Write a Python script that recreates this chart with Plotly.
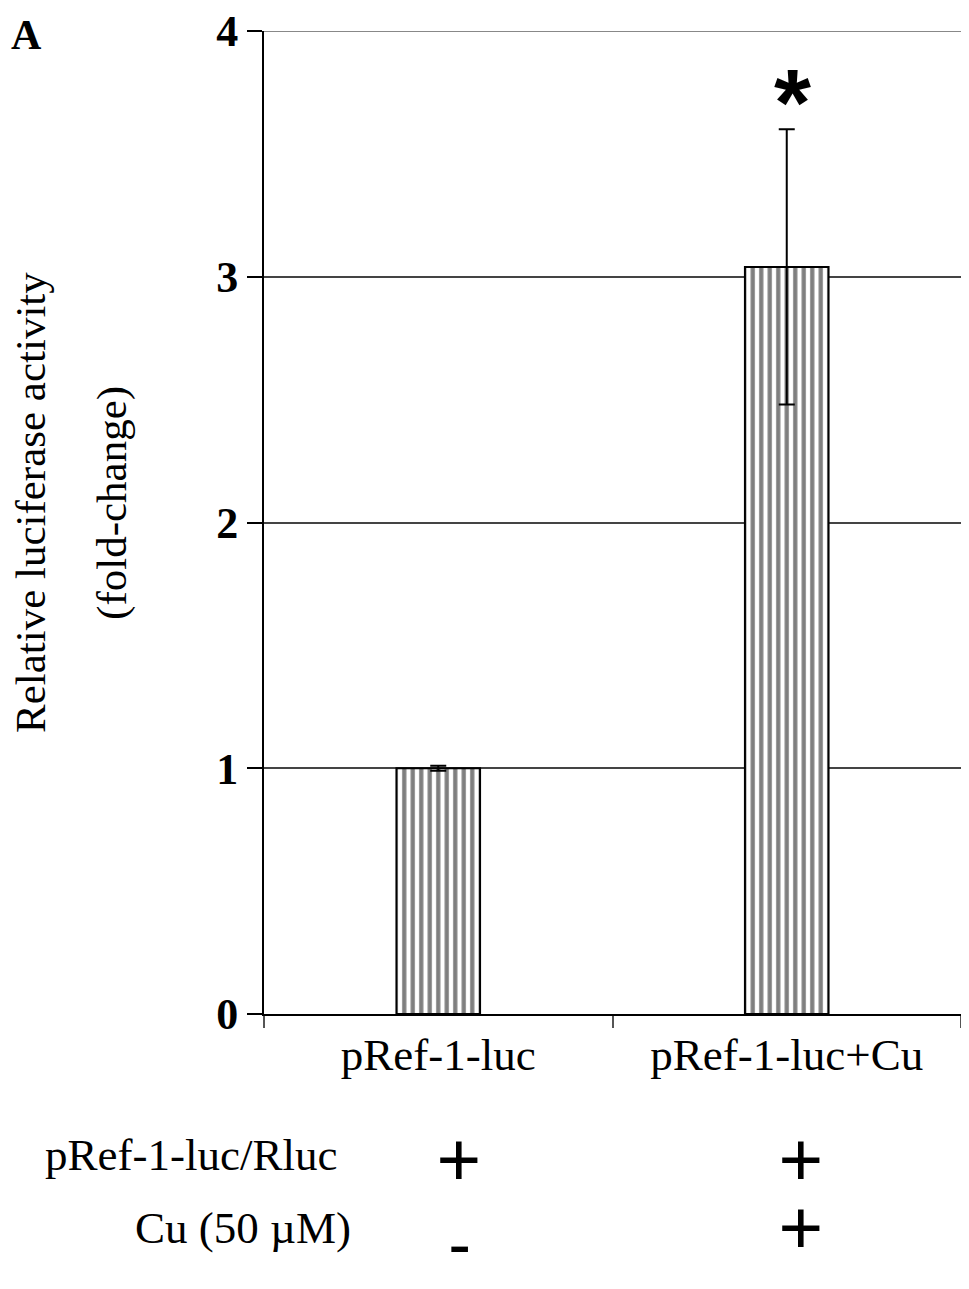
import plotly.graph_objects as go

# data
categories = ["pRef-1-luc", "pRef-1-luc+Cu"]
fold_change = [1.0, 3.04]
sem = [0.01, 0.56]
y_ticks = [0, 1, 2, 3, 4]
rluc_row = ["+", "+"]
cu_row = ["-", "+"]

SERIF = "Liberation Serif, Times New Roman, serif"
sign_shift = [21, 14]

fig = go.Figure()

fig.add_trace(go.Bar(
    x=categories,
    y=fold_change,
    width=0.24,
    marker=dict(
        color="white",
        line=dict(color="black", width=2),
        pattern=dict(shape="|", fgcolor="black", bgcolor="white", size=8.5, solidity=0.5),
    ),
    error_y=dict(type="data", array=sem, symmetric=True, color="black", thickness=2, width=8),
    showlegend=False,
))

fig.update_layout(
    width=969,
    height=1289,
    margin=dict(l=256, r=16, t=23, b=283),
    plot_bgcolor="white",
    paper_bgcolor="white",
    xaxis=dict(
        range=[-0.5, 1.5],
        showline=True,
        linecolor="black",
        linewidth=2,
        ticks="outside",
        tickson="boundaries",
        ticklen=12,
        tickcolor="#555",
        tickwidth=2,
        tickfont=dict(family=SERIF, size=45, color="black"),
        showgrid=False,
    ),
    yaxis=dict(
        range=[0, 4],
        tickvals=y_ticks,
        showline=True,
        linecolor="black",
        linewidth=2,
        ticks="outside",
        ticklen=15,
        tickcolor="black",
        tickwidth=2,
        ticklabeloverflow="allow",
        automargin=False,
        tickfont=dict(family=SERIF, size=44, color="black", weight="bold"),
        showgrid=True,
        gridcolor="#444",
        gridwidth=2,
        zeroline=False,
    ),
)

# top gridline at 4
fig.add_shape(type="line", xref="paper", yref="y", x0=0, x1=1, y0=4, y1=4,
              line=dict(color="#888", width=2), layer="below")

# y-axis title, two lines
fig.add_annotation(text="Relative luciferase activity", xref="paper", yref="paper",
                   x=-0.334, y=0.52, xanchor="center", yanchor="middle", textangle=-90,
                   showarrow=False, font=dict(family=SERIF, size=43, color="black"))
fig.add_annotation(text="(fold-change)", xref="paper", yref="paper",
                   x=-0.218, y=0.52, xanchor="center", yanchor="middle", textangle=-90,
                   showarrow=False, font=dict(family=SERIF, size=43, color="black"))

# significance marker
fig.add_annotation(text="*", x=categories[1], y=3.71, xref="x", yref="y",
                   showarrow=False, yanchor="middle", xshift=6,
                   font=dict(family="Liberation Sans, Arial, sans-serif", size=95, color="black", weight="bold"))

# panel letter
fig.add_annotation(text="A", xref="paper", yref="paper", x=-0.366, y=1.021,
                   xanchor="left", yanchor="top", showarrow=False,
                   font=dict(family=SERIF, size=42, color="black", weight="bold"))

# treatment table below the chart
fig.add_annotation(text="pRef-1-luc/Rluc", xref="paper", yref="paper", x=-0.317, y=-0.143,
                   xanchor="left", yanchor="middle", showarrow=False,
                   font=dict(family=SERIF, size=45, color="black"))
fig.add_annotation(text="Cu (50 µM)", xref="paper", yref="paper", x=-0.188, y=-0.218,
                   xanchor="left", yanchor="middle", showarrow=False,
                   font=dict(family=SERIF, size=45, color="black"))
for cat, sign, dx in zip(categories, rluc_row, sign_shift):
    fig.add_annotation(text=sign, x=cat, xref="x", yref="paper", y=-0.149,
                       yanchor="middle", showarrow=False, xshift=dx,
                       font=dict(family=SERIF, size=80, color="black", weight="bold"))
for cat, sign, dx in zip(categories, cu_row, sign_shift):
    fig.add_annotation(text=sign, x=cat, xref="x", yref="paper",
                       y=-0.218 if sign == "+" else -0.232,
                       yanchor="middle", showarrow=False, xshift=dx,
                       font=dict(family=SERIF, size=80 if sign == "+" else 64, color="black",
                                 weight="bold"))

fig.write_html("out.html")
